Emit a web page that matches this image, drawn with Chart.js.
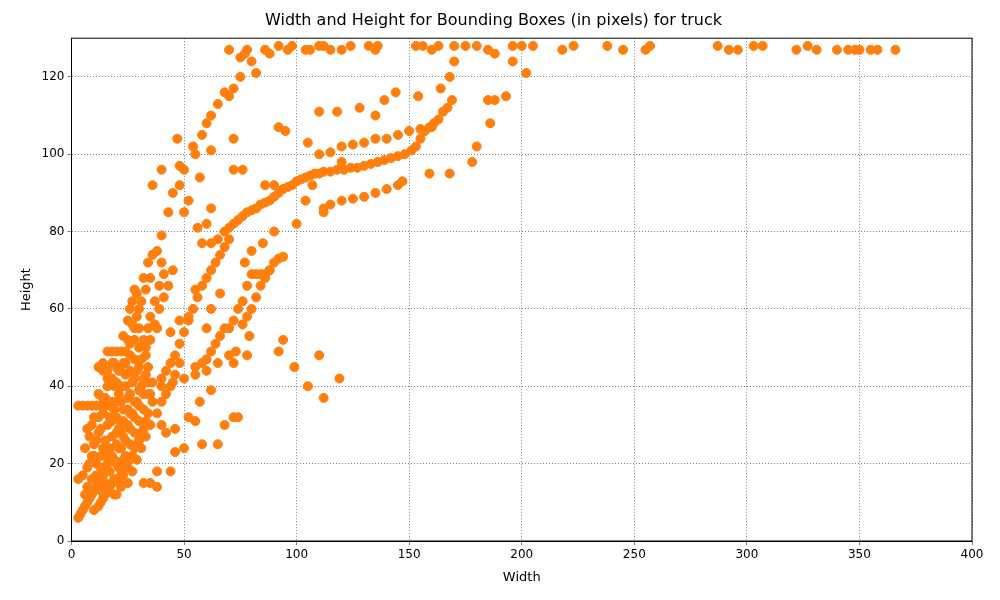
<!DOCTYPE html>
<html>
<head>
<script src="https://cdn.jsdelivr.net/npm/chart.js@4"></script>
<style>
  body { margin: 0; background: #fff; }
  #wrap { width: 1000px; height: 600px; }
</style>
</head>
<body>
<div id="wrap"><canvas id="c"></canvas></div>
<script>
// [width, height] pairs, grouped by region
const topRow = [[70,127],[75,125],[77,126],[78,127],[86,127],[88,126],[92,128],[96,127],[98,128],[104,127],[106,127],[110,128],[112,128],[115,127],[120,127],[124,128],[132,128],[135,127],[136,128],[153,128],[156,128],[160,127],[163,128],[170,128],[175,128],[180,128],[185,127],[188,126],[196,128],[200,128],[205,128],[218,127],[223,128],[238,128],[245,127],[255,127],[257,128],[287,128],[292,127],[296,127],[303,128],[307,128],[322,127],[327,128],[331,127],[340,127],[345,127],[348,127],[350,127],[355,127],[358,127],[366,127]];
const upperCurve = [[62,77],[65,78],[68,80],[70,81],[72,82],[74,83],[76,84],[78,85],[80,85.5],[82,86],[84,87],[86,87.5],[88,88],[90,89],[92,90],[94,91],[96,91.5],[98,92],[100,93],[102,93.5],[104,94],[106,94.5],[108,95],[110,95],[112,95.5],[115,95.5],[118,96],[121,96],[124,96.5],[127,96.5],[130,97],[133,97.5],[136,98],[139,98.5],[142,99],[145,99.5],[148,100],[151,101],[153,102],[155,104],[157,106],[159,107],[161,108],[163,109],[165,111],[167,112],[169,114],
  [110,100],[115,100.5],[120,102],[125,102.5],[130,103],[135,104],[140,104],[145,105],[150,106],[155,106.5],[160,107],
  [112,86],[115,87],[120,88],[125,88.5],[130,89],[135,90],[140,91],[145,92],[147,93]];
const middleBands = [[70,55],[72,57],[74,60],[76,62],[78,66],[80,69],[82,69],[84,69],[86,69],[88,70],[90,72],[92,73],[94,73.5],
  [55,45],[58,46],[60,47],[62,49],[64,51],[66,53],[68,55],[76,56],[78,58],[80,60],[82,63],[84,66],[86,68],[88,70],
  [40,42],[42,44],[44,46],[46,48],[48,51],[50,54],[52,57],[54,60],[56,63],[58,66],[60,68],[62,70],[64,72],[66,74],[68,76],[70,78],
  [35,38],[40,40],[45,41],[50,42],[55,43],[60,44],[65,46],[70,48],
  [55,100],[58,105],[60,108],[62,110],[65,113],[70,115],[75,120],[80,124],[82,121]];
const scattered = [[185,114],[188,114],[193,115],[186,108],[180,102],[178,98],[168,95],[159,95],[164,117],[168,120],[170,124],[196,124],[202,121],[154,115],[139,114],[144,116],[135,110],[128,112],[110,111],[118,111],[105,103],[100,82],[104,88],[107,92],[112,85],[120,98],[92,107],[95,106],[90,92],[86,92],[90,80],[85,77],[80,75],[77,72],[76,96],[72,96],[72,104],[68,116],[72,117],[62,101],[62,86],[60,82],[56,81],[58,77],[50,85],[48,97],[47,104],[50,96],[45,90],[43,85],[40,96],[40,79],[36,92],[38,75],[34,72],[32,68],[30,60],[28,65],[26,60],[33,50],[38,55],[44,54],[48,57],[52,58],[55,65],[62,60],[66,64],[60,55],[52,32],[55,31],[57,36],[62,39],[65,25],[68,30],[72,32],[74,32],[58,25],[50,24],[46,23],[44,18],[38,18],[38,14],[35,15],[32,15],[42,28],[46,29],[40,30],[92,49],[94,52],[99,45],[105,40],[110,48],[112,37],[119,42],[78,48],[79,53],[73,49],[72,46],[48,92],[52,88],[54,102],[57,94]];
const denseCluster = [[3,35],[5,35],[7,35],[9,35],[11,35],[13,35],[15,35],[17,35],
  [3,6],[4,7],[5,8],[6,9],[7,10],[8,11],[9,12],[10,13],[11,14],[12,15],[13,16],[14,17],[15,18],[3,16],[5,17],[7,19],[9,22],[10,25],[8,27],[9,30],[10,32],[12,28],[14,24],[16,20],[18,22],[20,25],[22,28],[24,30],[26,33],[28,36],[30,39],[32,42],[34,45],[16,49],[18,49],[20,49],[22,49],[24,49],[14,44],[16,40],[18,36],[20,32],[22,36],[24,40],[26,44],[28,47],[30,50],[12,38],[14,33],[16,30],[18,27],[20,20],[22,17],[24,22],[26,25],[28,28],[30,31],[32,34],[34,38],[36,41],[13,10],[15,12],[17,14],[19,16],[21,19],[23,21],[25,15],[27,18],[29,21],[31,24],[33,27],[35,30],[11,20],[13,22],[15,26],[17,32],[19,40],[21,44],[23,46],[25,52],[27,56],[29,58],[31,62],[33,65],[35,68],[10,8],[12,9],[14,11],[16,13],[18,15],[20,12],[22,14],[24,19],[26,21],[28,24],[30,26],[32,29],[34,33],[36,36],[38,33],[40,36],[42,38],[44,40],[46,43],[48,46],[11,26],[13,29],[15,37],[17,42],[19,46],[21,38],[23,34],[25,37],[27,41],[29,44],[31,47],[33,48],[35,52],[37,56],[39,60],[41,63],[43,66],[20,28],[22,24],[24,26],[26,29],[28,32],[30,35],[32,38],[34,41],[12,45],[14,46],[16,44],[18,42],[20,41],[22,30],[19,34],[17,24],[15,22],[13,19],[9,16],[7,14],[6,12],[8,20],[10,22],[6,24],[7,29],[35,58],[37,62],[39,66],[41,69],[45,70],[40,72],[36,74],[30,55],[28,52],[26,48],
  [11,17],[13,13],[15,15],[17,18],[19,21],[21,24],[23,27],[25,30],[27,33],[29,36],[31,40],[33,43],[18,31],[20,36],[22,40],[24,43],[26,38],[28,42],[21,29],[23,31],[25,34],[19,12],[21,15],[23,17],[25,19],[27,22],[29,25],[31,28],[33,31],[12,32],[14,37],[16,42],[18,46],[20,45],[22,44],[24,46],[26,51],[28,55],[30,45],[32,52],[34,55],[27,62],[29,64],[25,57],[23,53]];

const points = [...topRow, ...upperCurve, ...middleBands, ...scattered, ...denseCluster]
  .map(([x, y]) => ({ x, y }));

const font = { family: 'DejaVu Sans', size: 12 };

new Chart(document.getElementById('c'), {
  type: 'scatter',
  data: {
    datasets: [{
      data: points,
      backgroundColor: '#ff7f0e',
      borderColor: '#ff7f0e',
      pointRadius: 4.5,
      pointHoverRadius: 4.5
    }]
  },
  options: {
    responsive: true,
    maintainAspectRatio: false,
    animation: false,
    layout: { padding: { left: 15, right: 28, top: 3, bottom: 11 } },
    plugins: {
      legend: { display: false },
      tooltip: { enabled: false },
      title: {
        display: true,
        text: 'Width and Height for Bounding Boxes (in pixels) for truck',
        color: '#000',
        font: { family: 'DejaVu Sans', size: 16, weight: 'normal' },
        padding: { top: 8, bottom: 8 }
      }
    },
    scales: {
      x: {
        min: 0, max: 400,
        ticks: { stepSize: 50, color: '#000', font },
        grid: { color: '#000', lineWidth: 0.5, tickColor: '#000', tickLength: 4 },
        border: { color: '#000', display: true, dash: [1, 2] },
        title: { display: true, text: 'Width', color: '#000', font: { family: 'DejaVu Sans', size: 13 } }
      },
      y: {
        min: 0, max: 130,
        ticks: { stepSize: 20, color: '#000', font, callback: v => (v % 20 === 0 ? v : null) },
        grid: { color: '#000', lineWidth: 0.5, tickColor: '#000', tickLength: 4 },
        border: { color: '#000', display: true, dash: [1, 2] },
        title: { display: true, text: 'Height', color: '#000', font: { family: 'DejaVu Sans', size: 13 } }
      }
    }
  },
  plugins: [{
    id: 'frame',
    afterDraw(chart) {
      const { ctx, chartArea: a } = chart;
      ctx.save();
      ctx.strokeStyle = '#000';
      ctx.lineWidth = 1;
      ctx.strokeRect(a.left, a.top, a.right - a.left, a.bottom - a.top);
      ctx.restore();
    }
  }]
});
</script>
</body>
</html>
